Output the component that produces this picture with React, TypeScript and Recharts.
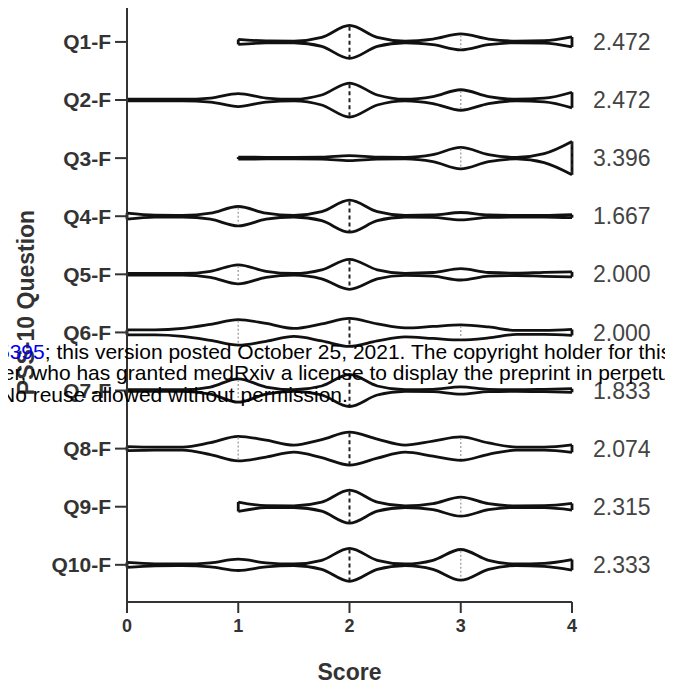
import React from 'react';
import { ComposedChart, Area, XAxis, YAxis, ReferenceLine, Label } from 'recharts';

const questions = ['Q1-F', 'Q2-F', 'Q3-F', 'Q4-F', 'Q5-F', 'Q6-F', 'Q7-F', 'Q8-F', 'Q9-F', 'Q10-F'];
const means = ['2.472', '2.472', '3.396', '1.667', '2.000', '2.000', '1.833', '2.074', '2.315', '2.333'];
const scores = [0, 0.25, 0.5, 0.75, 1, 1.25, 1.5, 1.75, 2, 2.25, 2.5, 2.75, 3, 3.25, 3.5, 3.75, 4];
const scoreTicks = [0, 1, 2, 3, 4];

// violin half-widths (density) at each score
const q1Width = [null, null, null, null, 2.5, 1.0, 0.8, 4.5, 16.5, 4.5, 0.8, 2.8, 8, 2.8, 0.8, 1.2, 5];
const q2Width = [0.8, 0.8, 0.8, 2.0, 6.5, 2.0, 0.8, 5.0, 17, 5.0, 0.8, 3.5, 10.3, 3.5, 0.8, 1.8, 7.8];
const q3Width = [null, null, null, null, 1.0, 0.8, 0.8, 1.0, 2.5, 1.0, 0.8, 3.5, 10.7, 3.5, 0.8, 4.5, 16.7];
const q4Width = [3, 1.0, 0.8, 3.0, 9.7, 3.0, 0.8, 4.5, 16, 4.5, 0.8, 1.2, 3.7, 1.2, 0.8, 0.8, 1.5];
const q5Width = [0.8, 0.8, 0.8, 3.0, 9.5, 3.0, 0.8, 4.5, 15, 4.5, 1.0, 1.8, 5.7, 1.8, 1.2, 2.0, 2.5];
const q6Width = [2.5, 2.5, 4.0, 8.0, 12.8, 9.0, 4.0, 8.5, 14, 8.5, 4.5, 6.0, 7.5, 5.5, 2.0, 2.0, 3.0];
const q7Width = [0.8, 0.8, 0.8, 3.5, 11.7, 3.5, 0.8, 4.5, 16, 4.5, 0.8, 1.2, 3.7, 1.2, 0.8, 1.2, 1.8];
const q8Width = [2.0, 1.5, 1.5, 6.0, 12.3, 8.5, 3.5, 9.0, 16.5, 9.5, 3.5, 7.5, 11.7, 5.7, 1.5, 1.5, 3.7];
const q9Width = [null, null, null, null, 4.7, 1.0, 0.8, 4.5, 16.5, 4.5, 0.8, 3.0, 9.5, 3.0, 0.8, 1.0, 3.3];
const q10Width = [2.5, 1.0, 0.8, 2.0, 5.7, 2.0, 0.8, 4.5, 16.5, 4.5, 0.8, 4.5, 15.3, 4.5, 0.8, 1.5, 5.3];

const medians = [2, 2, 4, 2, 2, 2, 2, 2, 2, 2];
const quartiles = [[3], [3], [3], [1], [1], [1, 3], [1], [1, 3], [3], [3]];

const widths = [q1Width, q2Width, q3Width, q4Width, q5Width, q6Width, q7Width, q8Width, q9Width, q10Width];
const DENSITY_PER_ROW = 58.1;
const FONT = 'Arial, "Liberation Sans", sans-serif';

const table = scores.map((s, k) => {
  const row: any = { score: s };
  widths.forEach((w, qi) => {
    const v = w[k];
    row['q' + qi] = v == null ? null : [qi + 1 - v / DENSITY_PER_ROW, qi + 1 + v / DENSITY_PER_ROW];
  });
  return row;
});

const widthAt = (qi: number, s: number) => {
  const k = scores.indexOf(s);
  const v = widths[qi][k];
  return v == null ? 0 : v;
};

const seg = (qi: number, s: number, shrink: number) => {
  const h = Math.max(widthAt(qi, s) - shrink, 0) / DENSITY_PER_ROW;
  return [{ x: s, y: qi + 1 - h }, { x: s, y: qi + 1 + h }];
};

const YLabel = (props: any) => {
  const vb = props.viewBox || { x: 0, y: 0, width: 0, height: 0 };
  const x = vb.x + 26;
  const y = vb.y + vb.height / 2;
  return (
    <text x={x} y={y} transform={`rotate(-90, ${x}, ${y})`} textAnchor="middle" dominantBaseline="central"
      fontFamily={FONT} fontWeight="bold" fontSize={23} fill="#333">PSS-10 Question</text>
  );
};

export default function App() {
  const rowIdx = questions.map((_, i) => i + 1);
  const caps: any[] = [];
  const lines: any[] = [];
  widths.forEach((w, qi) => {
    const first = w.findIndex((v) => v != null);
    let last = w.length - 1;
    while (last >= 0 && w[last] == null) last--;
    caps.push(<ReferenceLine key={'c0' + qi} yAxisId="left" segment={seg(qi, scores[first], 0)} stroke="#111" strokeWidth={2.8} ifOverflow="visible" />);
    caps.push(<ReferenceLine key={'c1' + qi} yAxisId="left" segment={seg(qi, scores[last], 0)} stroke="#111" strokeWidth={2.8} ifOverflow="visible" />);
    lines.push(<ReferenceLine key={'m' + qi} yAxisId="left" segment={seg(qi, medians[qi], 1.2)} stroke="#222" strokeWidth={2} strokeDasharray="4 3" ifOverflow="visible" />);
    quartiles[qi].forEach((s, j) => {
      lines.push(<ReferenceLine key={'q' + qi + '_' + j} yAxisId="left" segment={seg(qi, s, 1.2)} stroke="#aaa" strokeWidth={1.5} strokeDasharray="2 2" ifOverflow="visible" />);
    });
  });

  return (
    <div style={{ position: 'relative', width: 673, height: 692, margin: -8, overflow: 'hidden', background: '#fff', fontFamily: FONT }}>
      <ComposedChart width={673} height={692} data={table} margin={{ top: 3, right: 0, bottom: 0, left: 0 }}>
        <XAxis dataKey="score" type="number" domain={[0, 4]} ticks={scoreTicks} height={90}
          axisLine={{ stroke: '#333', strokeWidth: 2 }} tickLine={{ stroke: '#333', strokeWidth: 2 }} tickSize={11} tickMargin={6}
          tick={{ fill: '#333', fontSize: 18, fontWeight: 'bold', fontFamily: FONT }}>
          <Label value="Score" position="insideTop" offset={62} style={{ fill: '#333', fontSize: 23, fontWeight: 'bold', fontFamily: FONT }} />
        </XAxis>
        <YAxis yAxisId="left" type="number" domain={[0.33, 10.64]} reversed ticks={rowIdx} width={127}
          tickFormatter={(v: number) => questions[v - 1]}
          axisLine={{ stroke: '#333', strokeWidth: 2 }} tickLine={{ stroke: '#333', strokeWidth: 2 }} tickSize={12} tickMargin={4}
          tick={{ fill: '#333', fontSize: 21, fontWeight: 'bold', fontFamily: FONT }}>
          <Label content={YLabel} />
        </YAxis>
        <YAxis yAxisId="right" orientation="right" type="number" domain={[0.33, 10.64]} allowDataOverflow reversed ticks={rowIdx} width={101}
          interval={0} tickFormatter={(v: number) => means[v - 1]} axisLine={false} tickLine={false} tickSize={6} tickMargin={15}
          tick={{ fill: '#444', fontSize: 23, fontFamily: FONT }} />
        {widths.map((_, qi) => (
          <Area key={'a' + qi} yAxisId="left" dataKey={'q' + qi} type="monotone" stroke="#111" strokeWidth={2.8}
            fill="none" isAnimationActive={false} dot={false} activeDot={false} />
        ))}
        <Area yAxisId="right" dataKey="q0" type="monotone" stroke="none" fill="none" isAnimationActive={false} dot={false} activeDot={false} legendType="none" />
        {caps}
        {lines}
      </ComposedChart>
      <svg width={673} height={692} style={{ position: 'absolute', left: 0, top: 0, pointerEvents: 'none' }}>
        <text x={-2} y={359} fontFamily={FONT} fontSize={21} fill="#000">
          <tspan fill="#0000ee">5395</tspan>; this version posted October 25, 2021. The copyright holder for this
        </text>
        <text x={-38} y={380} fontFamily={FONT} fontSize={21} fill="#000">funder, who has granted medRxiv a license to display the preprint in perpetuity.</text>
        <text x={0} y={402} fontFamily={FONT} fontSize={21} fill="#000">No reuse allowed without permission.</text>
      </svg>
    </div>
  );
}
